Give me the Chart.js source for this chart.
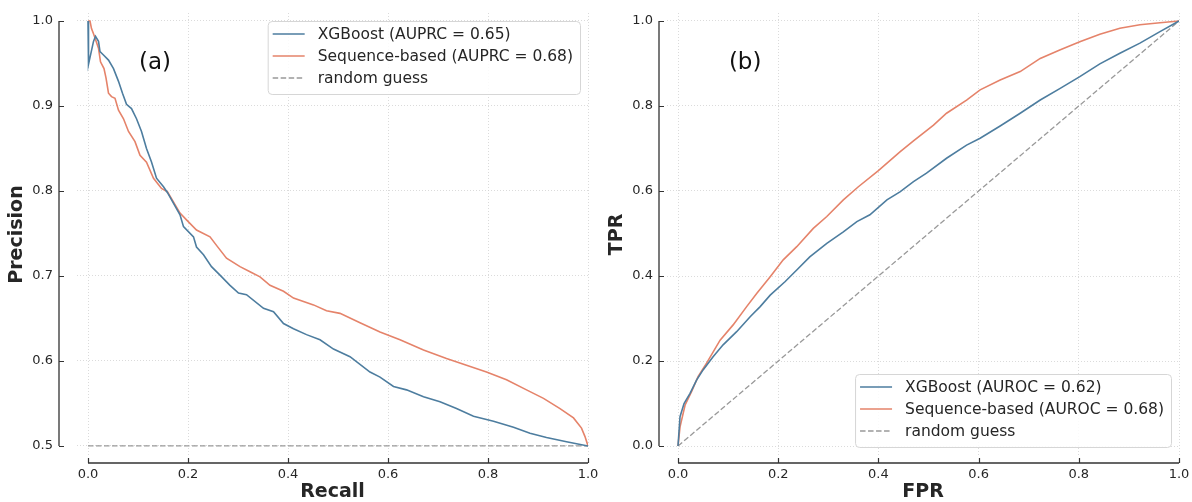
<!DOCTYPE html>
<html>
<head>
<meta charset="utf-8">
<script src="https://cdn.jsdelivr.net/npm/chart.js@4.4.1/dist/chart.umd.min.js"></script>
<style>
  html, body { margin: 0; padding: 0; background: #fff; }
  #wrap { position: relative; width: 1192px; height: 502px; overflow: hidden; }
  #wrap canvas { position: absolute; top: 0; }
</style>
</head>
<body>
<div id="wrap">
  <canvas id="prChart" width="620" height="502" style="left:0"></canvas>
  <canvas id="rocChart" width="596" height="502" style="left:596px"></canvas>
</div>
<script>
// precision-recall curves
var prRecallXgb = [0, 0.001, 0.011, 0.015, 0.021, 0.024, 0.031, 0.041, 0.051, 0.061,
  0.069, 0.077, 0.087, 0.097, 0.107, 0.117, 0.127, 0.137, 0.151, 0.159,
  0.184, 0.191, 0.211, 0.217, 0.231, 0.247, 0.264, 0.284, 0.301, 0.317,
  0.351, 0.371, 0.391, 0.411, 0.437, 0.464, 0.491, 0.524, 0.564, 0.584,
  0.611, 0.637, 0.671, 0.704, 0.737, 0.771, 0.811, 0.851, 0.884, 0.917,
  0.957, 1.0];
var prPrecisionXgb = [1.0, 0.949, 0.976, 0.982, 0.976, 0.964, 0.960, 0.954, 0.944, 0.929,
  0.915, 0.902, 0.897, 0.885, 0.870, 0.850, 0.834, 0.815, 0.805, 0.798,
  0.772, 0.758, 0.746, 0.734, 0.725, 0.711, 0.701, 0.689, 0.680, 0.678,
  0.662, 0.658, 0.644, 0.638, 0.631, 0.625, 0.614, 0.605, 0.587, 0.581,
  0.570, 0.566, 0.558, 0.552, 0.544, 0.535, 0.529, 0.522, 0.515, 0.510,
  0.505, 0.500];
var prRecallSeq = [0, 0.004, 0.007, 0.011, 0.014, 0.021, 0.025, 0.032, 0.036, 0.041,
  0.047, 0.054, 0.061, 0.071, 0.081, 0.094, 0.104, 0.117, 0.131, 0.147,
  0.159, 0.184, 0.197, 0.217, 0.244, 0.257, 0.277, 0.304, 0.324, 0.344,
  0.364, 0.391, 0.411, 0.451, 0.477, 0.504, 0.544, 0.584, 0.624, 0.671,
  0.717, 0.757, 0.797, 0.837, 0.877, 0.911, 0.944, 0.971, 0.987, 0.994,
  1.0];
var prPrecisionSeq = [1.0, 1.0, 0.991, 0.985, 0.980, 0.968, 0.952, 0.944, 0.933, 0.915,
  0.911, 0.909, 0.895, 0.885, 0.870, 0.858, 0.842, 0.834, 0.815, 0.803,
  0.799, 0.774, 0.766, 0.754, 0.746, 0.736, 0.721, 0.711, 0.705, 0.699,
  0.689, 0.682, 0.674, 0.666, 0.659, 0.656, 0.645, 0.634, 0.625, 0.613,
  0.603, 0.595, 0.587, 0.578, 0.566, 0.556, 0.544, 0.533, 0.521, 0.511,
  0.500];
var prBaselineRecall = [0, 1];
var prBaselinePrecision = [0.5, 0.5];

// ROC curves
var rocFprXgb = [0, 0.004, 0.012, 0.024, 0.037, 0.050, 0.070, 0.090, 0.117, 0.144,
  0.164, 0.184, 0.214, 0.237, 0.263, 0.297, 0.330, 0.357, 0.383, 0.417,
  0.443, 0.470, 0.496, 0.536, 0.576, 0.603, 0.643, 0.683, 0.723, 0.762,
  0.802, 0.842, 0.882, 0.922, 0.962, 1.0];
var rocTprXgb = [0, 0.069, 0.100, 0.124, 0.155, 0.179, 0.210, 0.238, 0.269, 0.304,
  0.328, 0.355, 0.387, 0.414, 0.445, 0.477, 0.504, 0.528, 0.544, 0.579,
  0.598, 0.622, 0.642, 0.677, 0.708, 0.724, 0.753, 0.783, 0.814, 0.841,
  0.869, 0.899, 0.924, 0.948, 0.975, 1.0];
var rocFprSeq = [0, 0.004, 0.014, 0.027, 0.040, 0.057, 0.084, 0.110, 0.137, 0.157,
  0.184, 0.210, 0.237, 0.270, 0.297, 0.330, 0.360, 0.400, 0.443, 0.470,
  0.510, 0.536, 0.576, 0.603, 0.643, 0.683, 0.723, 0.762, 0.802, 0.842,
  0.882, 0.922, 0.962, 1.0];
var rocTprSeq = [0, 0.045, 0.096, 0.128, 0.163, 0.195, 0.249, 0.285, 0.328, 0.359,
  0.398, 0.438, 0.469, 0.512, 0.540, 0.579, 0.610, 0.648, 0.692, 0.718,
  0.755, 0.783, 0.814, 0.838, 0.861, 0.881, 0.912, 0.932, 0.951, 0.969,
  0.983, 0.991, 0.996, 1.0];
var chanceFpr = [0, 1];
var chanceTpr = [0, 1];

// tick labels
var unitTicks = [0.0, 0.2, 0.4, 0.6, 0.8, 1.0];
var precisionTicks = [0.5, 0.6, 0.7, 0.8, 0.9, 1.0];

var xgbLabelPR = 'XGBoost (AUPRC = 0.65)';
var seqLabelPR = 'Sequence-based (AUPRC = 0.68)';
var xgbLabelROC = 'XGBoost (AUROC = 0.62)';
var seqLabelROC = 'Sequence-based (AUROC = 0.68)';
var chanceLabel = 'random guess';

var BLUE = '#4d7d9f';
var ORANGE = '#e5836a';
var GREY = '#999999';
var INK = '#262626';
var FONT = '"DejaVu Sans", sans-serif';

Chart.defaults.font.family = FONT;
Chart.defaults.color = INK;

function points(xs, ys) {
  return xs.map(function (x, i) { return { x: x, y: ys[i] }; });
}

function lineSet(label, xs, ys, color, dashed) {
  return {
    label: label,
    data: points(xs, ys),
    showLine: true,
    borderColor: color,
    backgroundColor: color,
    borderWidth: dashed ? 1.3 : 1.6,
    borderDash: dashed ? [5.5, 2.5] : [],
    pointRadius: 0,
    tension: 0
  };
}

// matplotlib-like offset spines with inward ticks, plus the panel letter
var spinePlugin = {
  id: 'spines',
  afterDraw: function (chart, args, opts) {
    var ctx = chart.ctx, area = chart.chartArea;
    var xs = chart.scales.x, ys = chart.scales.y;
    var sx = area.left - opts.leftGap;
    var sy = area.bottom + opts.bottomGap;
    var yt = ys.ticks, xt = xs.ticks;
    ctx.save();
    ctx.strokeStyle = '#333333';
    ctx.lineWidth = 1.3;
    ctx.beginPath();
    ctx.moveTo(sx, ys.getPixelForValue(yt[0].value));
    ctx.lineTo(sx, ys.getPixelForValue(yt[yt.length - 1].value));
    ctx.moveTo(xs.getPixelForValue(xt[0].value), sy);
    ctx.lineTo(xs.getPixelForValue(xt[xt.length - 1].value), sy);
    ctx.stroke();
    ctx.lineWidth = 1.2;
    ctx.beginPath();
    yt.forEach(function (t) {
      var py = Math.round(ys.getPixelForValue(t.value)) + 0.5;
      ctx.moveTo(sx, py);
      ctx.lineTo(sx + 5, py);
    });
    xt.forEach(function (t) {
      var px = Math.round(xs.getPixelForValue(t.value)) + 0.5;
      ctx.moveTo(px, sy);
      ctx.lineTo(px, sy - 5);
    });
    ctx.stroke();

    ctx.fillStyle = '#111111';
    ctx.font = '23px ' + FONT;
    ctx.textAlign = 'center';
    ctx.textBaseline = 'middle';
    ctx.fillText(opts.letter, xs.getPixelForValue(opts.letterAt[0]), ys.getPixelForValue(opts.letterAt[1]));
    ctx.restore();
  }
};

// boxed legend sitting inside the plot area
var boxLegend = {
  id: 'boxLegend',
  afterDraw: function (chart, args, opts) {
    var ctx = chart.ctx, area = chart.chartArea;
    var sets = chart.data.datasets;
    ctx.save();
    ctx.font = '15.5px ' + FONT;
    var tw = 0;
    sets.forEach(function (d) { tw = Math.max(tw, ctx.measureText(d.label).width); });
    var rowH = 22;
    var w = 5 + 32 + 13 + tw + 7;
    var h = 13 + rowH * (sets.length - 1) + 16;
    var x0 = area.right - 8 - w;
    var y0 = opts.corner === 'upper right' ? area.top + 8 : area.bottom - 9 - h;
    ctx.beginPath();
    ctx.roundRect(x0 + 0.5, y0 + 0.5, w, h, 4);
    ctx.fillStyle = 'rgba(255,255,255,0.85)';
    ctx.fill();
    ctx.strokeStyle = '#d6d6d6';
    ctx.lineWidth = 1;
    ctx.stroke();
    sets.forEach(function (d, i) {
      var cy = y0 + 13 + i * rowH;
      ctx.beginPath();
      ctx.setLineDash(d.borderDash || []);
      ctx.strokeStyle = d.borderColor;
      ctx.lineWidth = d.borderWidth;
      ctx.moveTo(x0 + 5, cy);
      ctx.lineTo(x0 + 37, cy);
      ctx.stroke();
      ctx.setLineDash([]);
      ctx.fillStyle = INK;
      ctx.textAlign = 'left';
      ctx.textBaseline = 'middle';
      ctx.fillText(d.label, x0 + 50, cy + 1);
    });
    ctx.restore();
  }
};

function axis(cfg) {
  return {
    type: 'linear',
    min: cfg.min,
    max: cfg.max,
    afterBuildTicks: function (scale) {
      scale.ticks = cfg.ticks.map(function (v) { return { value: v }; });
    },
    afterFit: function (scale) {
      if (cfg.width) scale.width = cfg.width;
      if (cfg.height) scale.height = cfg.height;
      // keep the plot area exactly where the layout padding puts it
      scale.paddingTop = scale.paddingBottom = 0;
      scale.paddingLeft = scale.paddingRight = 0;
    },
    grid: { color: '#d2d2d2', lineWidth: 0.8, drawTicks: false },
    border: { display: false, dash: [1, 2] },
    ticks: {
      padding: cfg.padding,
      font: { size: 13 },
      color: INK,
      callback: function (v) { return Number(v).toFixed(1); }
    },
    title: {
      display: true,
      text: cfg.title,
      font: { size: 19, weight: 'bold', lineHeight: 1.0 },
      color: INK,
      padding: cfg.titlePad
    }
  };
}

function makeChart(id, datasets, scales, layout, spineOpts, legendOpts) {
  return new Chart(document.getElementById(id).getContext('2d'), {
    type: 'scatter',
    data: { datasets: datasets },
    options: {
      responsive: false,
      animation: false,
      devicePixelRatio: 1,
      layout: { padding: layout },
      scales: scales,
      plugins: {
        legend: { display: false },
        tooltip: { enabled: false },
        spines: spineOpts,
        boxLegend: legendOpts
      }
    },
    plugins: [spinePlugin, boxLegend]
  });
}

makeChart('prChart', [
  lineSet(xgbLabelPR, prRecallXgb, prPrecisionXgb, BLUE, false),
  lineSet(seqLabelPR, prRecallSeq, prPrecisionSeq, ORANGE, false),
  lineSet(chanceLabel, prBaselineRecall, prBaselinePrecision, GREY, true)
], {
  x: axis({ min: -0.022, max: 1.0, ticks: unitTicks, height: 46, padding: 11, title: 'Recall', titlePad: { top: 0, bottom: 0 } }),
  y: axis({ min: 0.4882, max: 1.0094, ticks: precisionTicks, width: 77, padding: 24, title: 'Precision', titlePad: { top: 8, bottom: 0 } })
}, { top: 13, right: 32, bottom: 0, left: 0 },
  { leftGap: 18, bottomGap: 7, letter: '(a)', letterAt: [0.134, 0.951] },
  { corner: 'upper right' });

makeChart('rocChart', [
  lineSet(xgbLabelROC, rocFprXgb, rocTprXgb, BLUE, false),
  lineSet(seqLabelROC, rocFprSeq, rocTprSeq, ORANGE, false),
  lineSet(chanceLabel, chanceFpr, chanceTpr, GREY, true)
], {
  x: axis({ min: -0.022, max: 1.0, ticks: unitTicks, height: 46, padding: 11, title: 'FPR', titlePad: { top: 0, bottom: 0 } }),
  y: axis({ min: -0.0235, max: 1.0188, ticks: unitTicks, width: 71, padding: 14, title: 'TPR', titlePad: { top: 12, bottom: 0 } })
}, { top: 13, right: 13, bottom: 0, left: 0 },
  { leftGap: 8, bottomGap: 7, letter: '(b)', letterAt: [0.134, 0.901] },
  { corner: 'lower right' });
</script>
</body>
</html>
